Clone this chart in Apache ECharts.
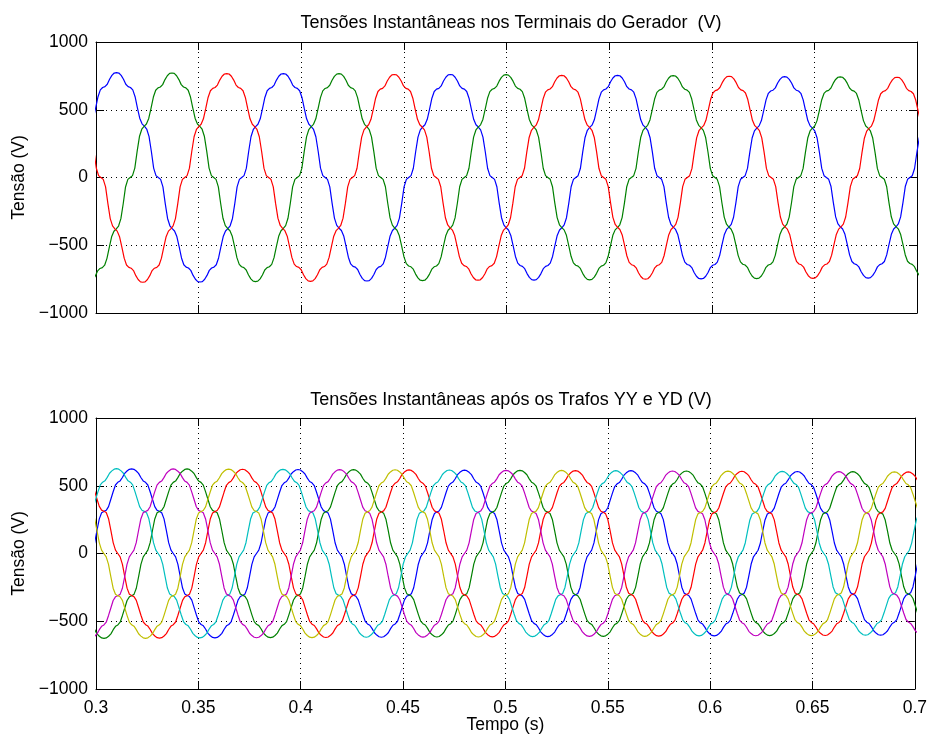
<!DOCTYPE html>
<html>
<head>
<meta charset="utf-8">
<script src="https://cdn.jsdelivr.net/npm/echarts@6/dist/echarts.min.js"></script>
<style>
html,body{margin:0;padding:0;background:#fff;}
#chart{width:930px;height:737px;}
</style>
</head>
<body>
<div id="chart"></div>
<script>
// ---- tick labels ----
const xTicks = [0.3, 0.35, 0.4, 0.45, 0.5, 0.55, 0.6, 0.65, 0.7];
const yTicks = [-1000, -500, 0, 500, 1000];
const topTitle = 'Tensões Instantâneas nos Terminais do Gerador  (V)';
const bottomTitle = 'Tensões Instantâneas após os Trafos YY e YD (V)';

// ---- quarter-wave shape (angle from extremum, fraction of extremum) ----
const shapeAngles = [0, 5, 10, 15, 20, 25, 30, 35, 40, 45, 50, 55, 60, 65, 70, 75, 80, 85, 90];
const shapeTop    = [1.000, 0.996, 0.974, 0.937, 0.889, 0.866, 0.858, 0.835, 0.770, 0.665, 0.565, 0.512, 0.490, 0.462, 0.392, 0.250, 0.090, 0.018, 0];
const shapeBottom = [1.000, 0.994, 0.974, 0.946, 0.897, 0.857, 0.841, 0.809, 0.729, 0.641, 0.553, 0.510, 0.497, 0.481, 0.409, 0.272, 0.128, 0.040, 0];

// ---- top plot: extremum times (s) and values (V) ----
const topBlueT  = [0.2694, 0.3100, 0.3507, 0.3913, 0.4320, 0.4727, 0.5134, 0.5541, 0.5948, 0.6355, 0.6762, 0.7169];
const topBlueV  = [-776, 774, -771, 767, -764, 760, -757, 754, -748, 744, -742, 738];
const topGreenT = [0.2556, 0.2963, 0.3370, 0.3777, 0.4184, 0.4591, 0.4998, 0.5405, 0.5812, 0.6219, 0.6626, 0.7033];
const topGreenV = [776, -775, 771, -768, 766, -761, 759, -755, 752, -746, 743, -740];
const topRedT   = [0.2820, 0.3228, 0.3637, 0.4045, 0.4453, 0.4861, 0.5269, 0.5677, 0.6085, 0.6493, 0.6903, 0.7313];
const topRedV   = [776, -773, 767, -766, 760, -758, 754, -750, 747, -744, 740, -738];

// ---- bottom plot: extremum times (s) and values (V) ----
const botBlueT    = [0.2768, 0.3174, 0.3581, 0.3987, 0.4394, 0.4800, 0.5207, 0.5613, 0.6020, 0.6426, 0.6833, 0.7239];
const botBlueV    = [-628, 625, -623, 620, -618, 615, -613, 611, -608, 605, -603, 600];
const botGreenT   = [0.2632, 0.3039, 0.3445, 0.3852, 0.4258, 0.4665, 0.5071, 0.5478, 0.5884, 0.6291, 0.6697, 0.7104];
const botGreenV   = [629, -627, 624, -621, 619, -616, 614, -611, 609, -606, 604, -601];
const botRedT     = [0.2497, 0.2903, 0.3310, 0.3716, 0.4123, 0.4529, 0.4936, 0.5342, 0.5749, 0.6155, 0.6562, 0.6968, 0.7375];
const botRedV     = [-630, 628, -625, 622, -620, 617, -615, 612, -610, 607, -605, 602, -600];
const botCyanT    = [0.2694, 0.3100, 0.3507, 0.3913, 0.4320, 0.4726, 0.5133, 0.5539, 0.5946, 0.6352, 0.6759, 0.7165];
const botCyanV    = [-629, 626, -623, 621, -618, 616, -613, 611, -608, 606, -603, 601];
const botMagentaT = [0.2564, 0.2971, 0.3377, 0.3784, 0.4190, 0.4597, 0.5003, 0.5410, 0.5816, 0.6223, 0.6629, 0.7036];
const botMagentaV = [629, -627, 624, -622, 619, -617, 614, -612, 609, -607, 604, -602];
const botYellowT  = [0.2835, 0.3242, 0.3648, 0.4055, 0.4461, 0.4868, 0.5274, 0.5681, 0.6087, 0.6494, 0.6900, 0.7307];
const botYellowV  = [628, -626, 623, -621, 618, -616, 613, -611, 608, -606, 603, -601];

// build trace between read extrema using the read quarter-wave shape
function build(ts, vs, shape) {
  const pts = [];
  const n = shape.length - 1;
  for (let i = 0; i < ts.length - 1; i++) {
    const t0 = ts[i], t1 = ts[i + 1], h = (t1 - t0) / 2;
    for (let k = 0; k < n; k++) pts.push([t0 + h * shapeAngles[k] / 90, vs[i] * shape[k]]);
    for (let k = n; k > 0; k--) pts.push([t1 - h * shapeAngles[k] / 90, vs[i + 1] * shape[k]]);
  }
  pts.push([ts[ts.length - 1], vs[vs.length - 1]]);
  return pts;
}

const FONT = 'Liberation Sans, Arial, sans-serif';
const FS = 17.5;
const minus = v => (v < 0 ? '\u2212' + Math.abs(v) : String(v));

function xAxes(gi, labels) {
  const base = {
    gridIndex: gi, type: 'value', min: xTicks[0], max: xTicks[xTicks.length - 1],
    interval: 0.05,
    axisLine: { show: true, onZero: false, lineStyle: { color: '#000', width: 1 } },
    axisTick: { show: true, inside: true, length: 8, lineStyle: { color: '#000' } },
  };
  return [
    Object.assign({}, base, {
      position: 'bottom',
      axisLabel: labels ? { show: true, color: '#000', fontFamily: FONT, fontSize: FS, margin: 10,
        formatter: v => String(+v.toFixed(2)) } : { show: false },
      splitLine: { show: true, lineStyle: { color: '#000', type: [1, 4], width: 1 } },
      name: labels ? 'Tempo (s)' : '', nameLocation: 'middle', nameGap: 27, nameMoveOverlap: false,
      nameTextStyle: { color: '#000', fontFamily: FONT, fontSize: FS, verticalAlign: 'top' }
    }),
    Object.assign({}, base, { position: 'top', axisLabel: { show: false }, splitLine: { show: false } })
  ];
}
function yAxes(gi) {
  const base = {
    gridIndex: gi, type: 'value', min: yTicks[0], max: yTicks[yTicks.length - 1], interval: 500,
    axisLine: { show: true, onZero: false, lineStyle: { color: '#000', width: 1 } },
    axisTick: { show: true, inside: true, length: 8, lineStyle: { color: '#000' } },
  };
  return [
    Object.assign({}, base, {
      position: 'left',
      axisLabel: { show: true, color: '#000', fontFamily: FONT, fontSize: FS, margin: 8, formatter: minus },
      splitLine: { show: true, lineStyle: { color: '#000', type: [1, 4], width: 1 } },
      name: 'Tensão (V)', nameLocation: 'middle', nameGap: 64, nameRotate: 90,
      nameTextStyle: { color: '#000', fontFamily: FONT, fontSize: FS }
    }),
    Object.assign({}, base, { position: 'right', axisLabel: { show: false }, splitLine: { show: false } })
  ];
}

function line(name, data, color, xi, yi) {
  return { name, type: 'line', data, xAxisIndex: xi, yAxisIndex: yi, showSymbol: false, symbol: 'none',
    lineStyle: { color, width: 1.2 }, itemStyle: { color }, animation: false, clip: true, silent: true };
}

const chart = echarts.init(document.getElementById('chart'), null, { renderer: 'canvas' });
chart.setOption({
  backgroundColor: '#fff',
  animation: false,
  title: [
    { text: topTitle, left: 506, top: 9, textAlign: 'center',
      textStyle: { color: '#000', fontFamily: FONT, fontSize: 18, fontWeight: 'normal' } },
    { text: bottomTitle, left: 506, top: 386, textAlign: 'center',
      textStyle: { color: '#000', fontFamily: FONT, fontSize: 18, fontWeight: 'normal' } }
  ],
  grid: [
    { left: 96, top: 42, width: 821, height: 271 },
    { left: 96, top: 418, width: 821, height: 271 }
  ],
  xAxis: [...xAxes(0, false), ...xAxes(1, true)],
  yAxis: [...yAxes(0), ...yAxes(1)],
  series: [
    line('A', build(topBlueT, topBlueV, shapeTop), '#0000ff', 0, 0),
    line('B', build(topGreenT, topGreenV, shapeTop), '#008000', 0, 0),
    line('C', build(topRedT, topRedV, shapeTop), '#ff0000', 0, 0),
    line('YY-A', build(botBlueT, botBlueV, shapeBottom), '#0000ff', 2, 2),
    line('YY-B', build(botGreenT, botGreenV, shapeBottom), '#008000', 2, 2),
    line('YY-C', build(botRedT, botRedV, shapeBottom), '#ff0000', 2, 2),
    line('YD-A', build(botCyanT, botCyanV, shapeBottom), '#00bfbf', 2, 2),
    line('YD-B', build(botMagentaT, botMagentaV, shapeBottom), '#bf00bf', 2, 2),
    line('YD-C', build(botYellowT, botYellowV, shapeBottom), '#bfbf00', 2, 2)
  ]
});
</script>
</body>
</html>
